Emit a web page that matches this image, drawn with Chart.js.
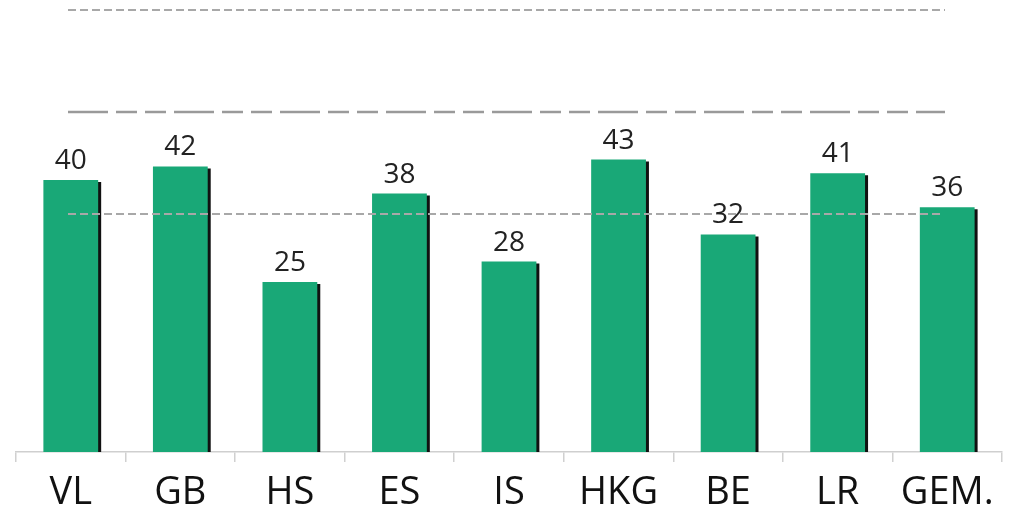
<html>
<head>
<script src="https://cdn.jsdelivr.net/npm/chart.js@4.4.0/dist/chart.umd.min.js"></script>
<style>
  body { margin: 0; background: #fff; }
  #wrap { width: 1011px; height: 512px; }
</style>
</head>
<body>
<div id="wrap"><canvas id="barChart"></canvas></div>

<script>
    // data
    const categories = ['VL', 'GB', 'HS', 'ES', 'IS', 'HKG', 'BE', 'LR', 'GEM.'];
    const values = [40, 42, 25, 38, 28, 43, 32, 41, 36];
    // the three dashed reference levels
    const refLevels = [65, 50, 35];

    const refStyles = {
        65: { dash: [8, 4], color: '#a8a8a8', width: 2 },
        50: { dash: [40, 8, 21, 8, 21, 8], color: '#9a9a9a', width: 2.5 },
        35: { dash: [8, 4], color: '#a8a8a8', width: 2 }
    };

    // drop shadow on the bars (black strip on the right)
    const barShadow = {
        id: 'barShadow',
        beforeDatasetsDraw(chart) {
            const ctx = chart.ctx;
            ctx.save();
            ctx.shadowColor = '#111';
            ctx.shadowOffsetX = 3;
            ctx.shadowOffsetY = 2;
            ctx.shadowBlur = 0;
        },
        afterDatasetsDraw(chart) {
            chart.ctx.restore();
        }
    };

    // dashed lines on top of the bars, and value labels
    const overlay = {
        id: 'overlay',
        afterDraw(chart) {
            const ctx = chart.ctx;
            const y = chart.scales.y;
            ctx.save();
            refLevels.forEach(function(lv) {
                const s = refStyles[lv];
                const py = y.getPixelForValue(lv);
                ctx.beginPath();
                ctx.setLineDash(s.dash);
                ctx.strokeStyle = s.color;
                ctx.lineWidth = s.width;
                ctx.moveTo(68, py);
                ctx.lineTo(lv == 35 ? 940 : 945, py);
                ctx.stroke();
            });
            ctx.setLineDash([]);

            ctx.fillStyle = '#222';
            ctx.font = '28px "Open Sans"';
            ctx.textAlign = 'center';
            ctx.textBaseline = 'bottom';
            const meta = chart.getDatasetMeta(0);
            meta.data.forEach(function(bar, i) {
                ctx.fillText(String(values[i]), bar.x, bar.y - 5);
            });
            ctx.restore();
        }
    };

    var ctx = document.getElementById('barChart').getContext('2d');
    var chart = new Chart(ctx, {
        type: 'bar',
        data: {
            labels: categories,
            datasets: [{
                data: values,
                backgroundColor: '#19a877',
                borderWidth: 0,
                barPercentage: 0.5,
                categoryPercentage: 1.0
            }]
        },
        options: {
            responsive: true,
            maintainAspectRatio: false,
            animation: false,
            layout: { padding: { left: 16, right: 9, top: 10, bottom: -12 } },
            plugins: {
                legend: { display: false },
                tooltip: { enabled: false }
            },
            scales: {
                x: {
                    offset: true,
                    grid: {
                        offset: true,
                        drawOnChartArea: false,
                        drawTicks: true,
                        tickLength: 10,
                        color: '#d0d0d0',
                        lineWidth: 1.5
                    },
                    border: { display: true, color: '#cfcfcf', width: 1.5 },
                    ticks: {
                        color: '#111',
                        padding: 12,
                        font: { family: '"Open Sans"', size: 38, lineHeight: 1.0 },
                        maxRotation: 0,
                        autoSkip: false
                    }
                },
                y: {
                    display: false,
                    min: 0,
                    max: 65
                }
            }
        },
        plugins: [barShadow, overlay]
    });
</script>
</body>
</html>
